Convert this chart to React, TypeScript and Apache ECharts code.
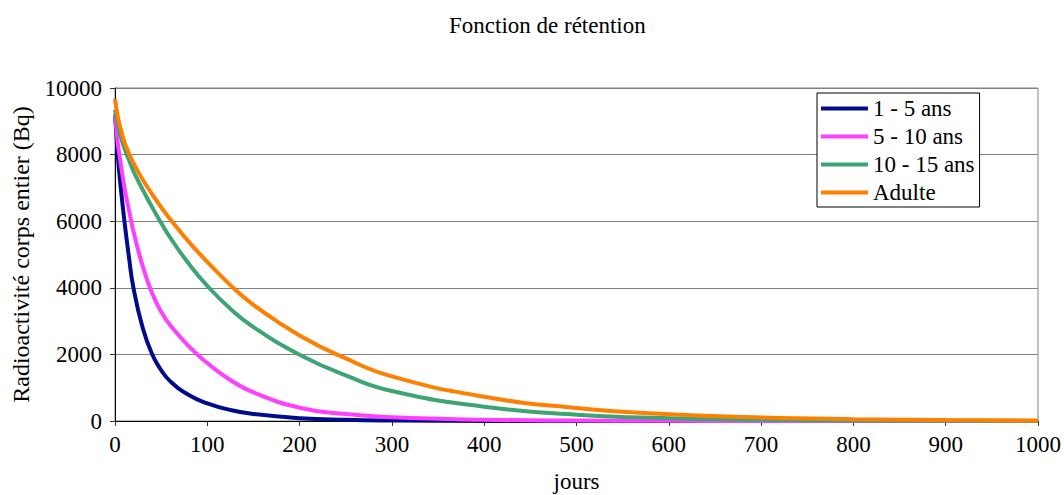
import React, { useEffect, useRef } from "react";
import * as echarts from "echarts";

// Sampling days (x) shared by every age group
const days = [0, 3, 5, 10, 15, 20, 30, 40, 50, 60, 80, 100, 125, 150, 200, 250, 300, 400, 500, 600, 700, 800, 900, 1000];

// Whole-body retained activity (Bq) per age group
const enfant1a5 = [9200, 8000, 7350, 6050, 4950, 4000, 2800, 2020, 1530, 1190, 780, 530, 330, 210, 85, 35, 15, 3, 0, 0, 0, 0, 0, 0];
const enfant5a10 = [9200, 8350, 7950, 7050, 6350, 5700, 4650, 3850, 3280, 2870, 2240, 1740, 1230, 860, 400, 210, 115, 38, 12, 4, 1, 0, 0, 0];
const enfant10a15 = [9340, 8900, 8650, 8200, 7850, 7500, 6950, 6430, 5950, 5500, 4720, 4060, 3370, 2820, 1990, 1370, 900, 430, 190, 82, 36, 16, 7, 3];
const adulte = [9670, 9150, 8900, 8400, 8050, 7750, 7250, 6820, 6420, 6050, 5380, 4780, 4080, 3490, 2570, 1880, 1340, 730, 390, 200, 105, 55, 28, 14];

const seriesNames = ["1 - 5 ans", "5 - 10 ans", "10 - 15 ans", "Adulte"];
const seriesValues = [enfant1a5, enfant5a10, enfant10a15, adulte];
const seriesColors = ["#000C8C", "#FF3FFF", "#3DA574", "#FF7F00"];

const FONT = "Liberation Serif";
const FS = 23;

export default function App() {
  const ref = useRef<HTMLDivElement>(null);

  useEffect(() => {
    if (!ref.current) return;
    const chart = echarts.init(ref.current, undefined, { renderer: "svg" });

    chart.setOption({
      animation: false,
      backgroundColor: "#ffffff",
      textStyle: { fontFamily: FONT },
      title: {
        text: "Fonction de rétention",
        left: 444,
        top: 9,
        textStyle: { fontFamily: FONT, fontSize: FS, fontWeight: "normal", color: "#000" },
      },
      legend: {
        orient: "vertical",
        left: 817,
        top: 93,
        icon: "rect",
        itemWidth: 47,
        itemHeight: 4,
        itemGap: 5,
        padding: [4, 5, 3, 4],
        backgroundColor: "#ffffff",
        borderColor: "#000000",
        borderWidth: 1,
        textStyle: { fontFamily: FONT, fontSize: FS, color: "#000" },
        data: seriesNames,
      },
      grid: {
        left: 115,
        right: 26,
        top: 88,
        bottom: 74,
        outerBoundsMode: "none",
        show: true,
        borderColor: "#808080",
        borderWidth: 1,
        backgroundColor: "transparent",
      },
      xAxis: {
        type: "value",
        min: 0,
        max: 1000,
        interval: 100,
        name: "jours",
        nameLocation: "middle",
        nameGap: 49,
        nameTextStyle: { fontFamily: FONT, fontSize: FS, color: "#000" },
        axisLine: { show: true, lineStyle: { color: "#000", width: 1 } },
        axisTick: { show: true, inside: false, length: 5, lineStyle: { color: "#333" } },
        axisLabel: {
          fontFamily: FONT,
          fontSize: FS,
          color: "#000",
          margin: 12,
          formatter: (v: number) => String(v),
        },
        splitLine: { show: false },
      },
      yAxis: {
        type: "value",
        min: 0,
        max: 10000,
        interval: 2000,
        name: "Radioactivité corps entier (Bq)",
        nameLocation: "middle",
        nameGap: 82,
        nameTextStyle: { fontFamily: FONT, fontSize: 24, color: "#000" },
        axisLine: { show: true, lineStyle: { color: "#000", width: 1 } },
        axisTick: { show: true, inside: false, length: 5, lineStyle: { color: "#333" } },
        axisLabel: {
          fontFamily: FONT,
          fontSize: FS,
          color: "#000",
          margin: 13,
          formatter: (v: number) => String(v),
        },
        splitLine: { show: true, lineStyle: { color: "#808080", width: 1 } },
      },
      series: seriesNames.map((name, i) => ({
        name,
        type: "line",
        data: days.map((d, k) => [d, seriesValues[i][k]]),
        smooth: true,
        showSymbol: false,
        symbol: "none",
        lineStyle: { color: seriesColors[i], width: 4 },
        itemStyle: { color: seriesColors[i] },
      })),
    });

    return () => chart.dispose();
  }, []);

  return (
    <div
      ref={ref}
      style={{ position: "absolute", left: 0, top: 0, width: 1064, height: 495, overflow: "hidden" }}
    />
  );
}
